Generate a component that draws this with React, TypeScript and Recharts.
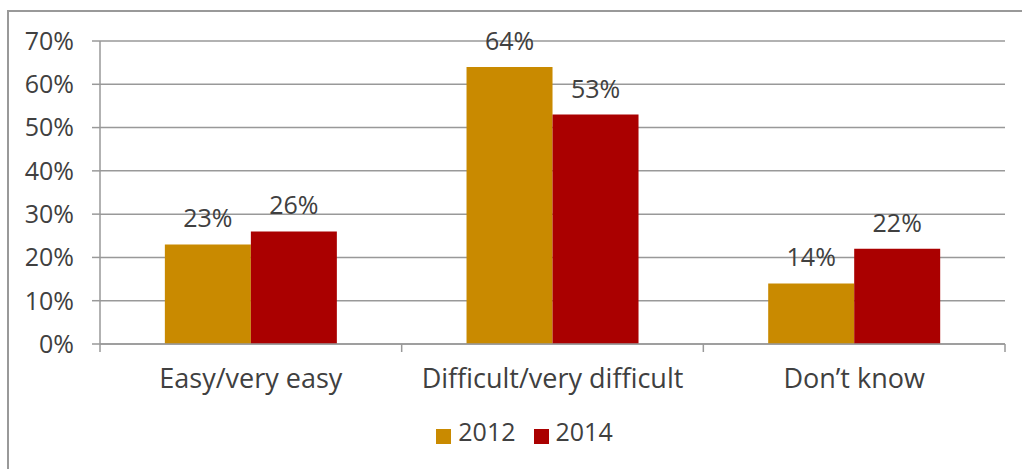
import { BarChart, Bar, XAxis, YAxis, CartesianGrid, Legend, LabelList } from 'recharts';

const categories = ['Easy/very easy', 'Difficult/very difficult', 'Don\u2019t know'];
const values2012 = [23, 64, 14];
const values2014 = [26, 53, 22];
const yTicks = [0, 10, 20, 30, 40, 50, 60, 70];

const chartData = categories.map((name, i) => ({
  name,
  y2012: values2012[i],
  y2014: values2014[i],
}));

const TEXT = '#404040';
const LINE = '#999999';
const FONT = '"Open Sans", sans-serif';

const TICK_SIZE = 8;
const TICK_MARGIN = 17;

// category labels, with the tick marks drawn on the band edges like Excel does
function CategoryTick(props: any) {
  const { x, y, payload, index, visibleTicksCount } = props;
  const half = payload?.offset ?? 150.8;
  const y1 = y - TICK_MARGIN - TICK_SIZE;
  const y2 = y - TICK_MARGIN;
  return (
    <g>
      <line x1={x - half} x2={x - half} y1={y1} y2={y2} stroke={LINE} strokeWidth={1.5} />
      {index === visibleTicksCount - 1 && (
        <line x1={x + half} x2={x + half} y1={y1} y2={y2} stroke={LINE} strokeWidth={1.5} />
      )}
      <text x={x} y={y} dy="0.71em" textAnchor="middle" fill={TEXT} fontSize={27} fontFamily={FONT}>
        {payload.value}
      </text>
    </g>
  );
}

export default function App() {
  return (
    <div
      style={{
        position: 'absolute',
        left: 0,
        top: 0,
        width: 1022,
        height: 469,
        background: '#fff',
        overflow: 'hidden',
        fontFamily: FONT,
      }}
    >
      {/* frame of the original slide box */}
      <div
        style={{
          position: 'absolute',
          left: 7,
          top: 10,
          width: 1040,
          height: 500,
          borderLeft: `2px solid ${LINE}`,
          borderTop: `2px solid ${LINE}`,
        }}
      />
      <div style={{ position: 'absolute', left: 0, top: 0 }}>
        <BarChart
          width={1022}
          height={469}
          data={chartData}
          margin={{ top: 41, right: 17, left: 0, bottom: 0 }}
          barCategoryGap="21.5%"
          barGap={0}
        >
          <CartesianGrid vertical={false} stroke={LINE} strokeWidth={1.5} />
          <YAxis
            width={100}
            domain={[0, 70]}
            ticks={yTicks}
            interval={0}
            tickFormatter={(v: number) => `${v}%`}
            tickSize={8}
            tickMargin={18}
            axisLine={{ stroke: LINE, strokeWidth: 1.5 }}
            tickLine={{ stroke: LINE, strokeWidth: 1.5 }}
            tick={{ fill: TEXT, fontSize: 25, fontFamily: FONT }}
          />
          <XAxis
            dataKey="name"
            height={80}
            interval={0}
            tickSize={TICK_SIZE}
            tickMargin={TICK_MARGIN}
            tickLine={false}
            axisLine={{ stroke: LINE, strokeWidth: 1.5 }}
            tick={<CategoryTick />}
          />
          <Legend
            verticalAlign="bottom"
            height={45}
            iconType="square"
            iconSize={15}
            wrapperStyle={{ bottom: 10, left: 31 }}
            formatter={(value: string) => (
              <span style={{ color: TEXT, fontSize: 25, fontFamily: FONT, marginLeft: 3, marginRight: 8 }}>
                {value}
              </span>
            )}
          />
          <Bar dataKey="y2012" name="2012" fill="#C98A00" isAnimationActive={false}>
            <LabelList
              dataKey="y2012"
              position="top"
              offset={17}
              formatter={(v: number) => `${v}%`}
              fill={TEXT}
              fontSize={25}
              fontFamily={FONT}
            />
          </Bar>
          <Bar dataKey="y2014" name="2014" fill="#AA0000" isAnimationActive={false}>
            <LabelList
              dataKey="y2014"
              position="top"
              offset={17}
              formatter={(v: number) => `${v}%`}
              fill={TEXT}
              fontSize={25}
              fontFamily={FONT}
            />
          </Bar>
        </BarChart>
      </div>
    </div>
  );
}
